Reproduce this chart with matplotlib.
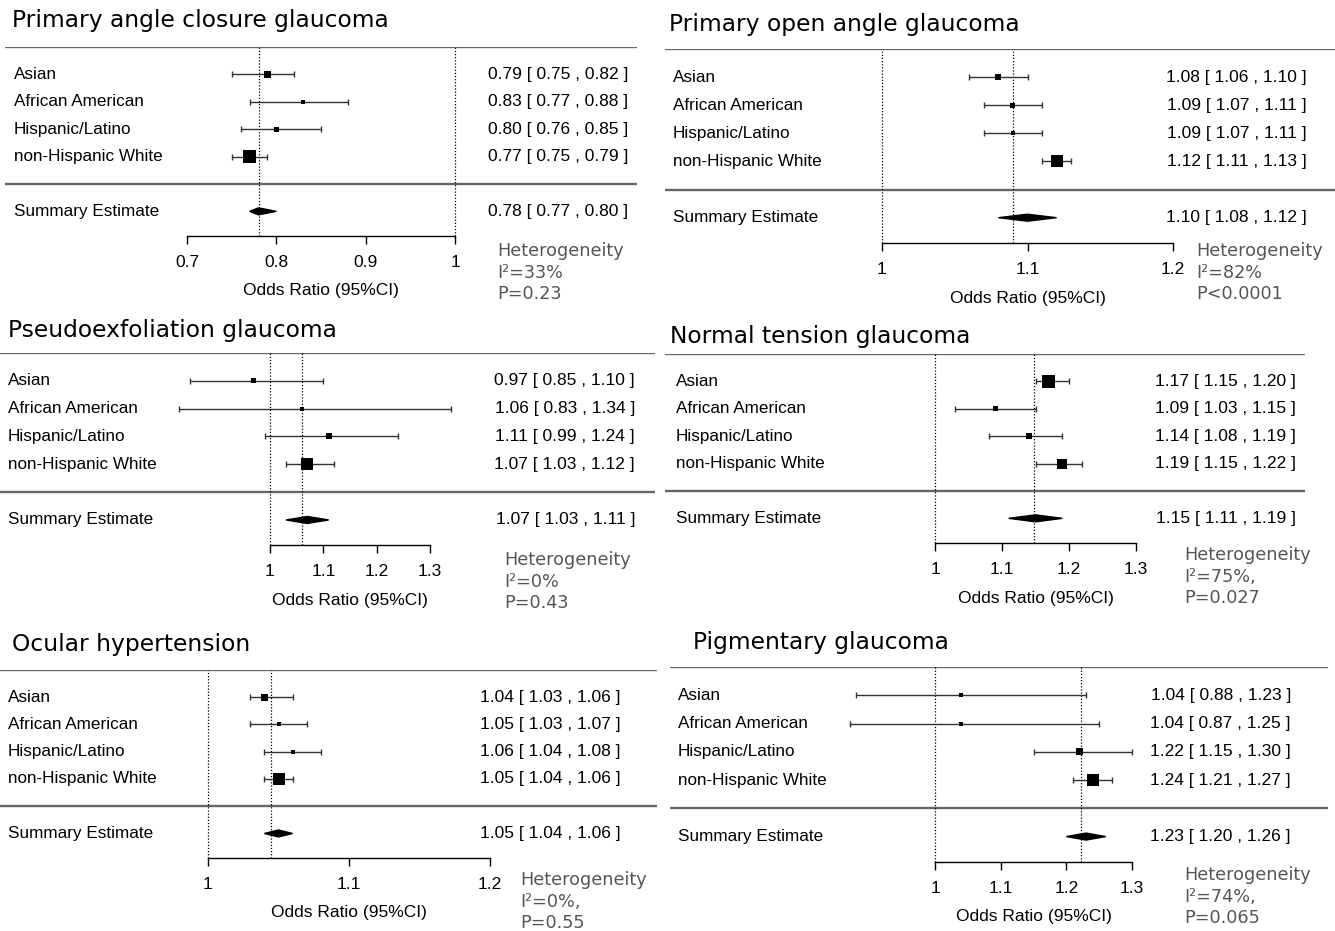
import matplotlib
matplotlib.use("Agg")
import matplotlib.pyplot as plt
import numpy as np

plt.rcParams['font.family'] = ['Liberation Sans', 'DejaVu Sans']

W, H = 1335, 931

groups = ["Asian", "African American", "Hispanic/Latino", "non-Hispanic White"]

titles = ["Primary angle closure glaucoma", "Primary open angle glaucoma",
          "Pseudoexfoliation glaucoma", "Normal tension glaucoma",
          "Ocular hypertension", "Pigmentary glaucoma"]

# odds ratios per group: estimate, lower, upper
pacg_est = [0.79, 0.83, 0.80, 0.77]
pacg_lo = [0.75, 0.77, 0.76, 0.75]
pacg_hi = [0.82, 0.88, 0.85, 0.79]
poag_est = [1.08, 1.09, 1.09, 1.12]
poag_lo = [1.06, 1.07, 1.07, 1.11]
poag_hi = [1.10, 1.11, 1.11, 1.13]
pxf_est = [0.97, 1.06, 1.11, 1.07]
pxf_lo = [0.85, 0.83, 0.99, 1.03]
pxf_hi = [1.10, 1.34, 1.24, 1.12]
ntg_est = [1.17, 1.09, 1.14, 1.19]
ntg_lo = [1.15, 1.03, 1.08, 1.15]
ntg_hi = [1.20, 1.15, 1.19, 1.22]
oht_est = [1.04, 1.05, 1.06, 1.05]
oht_lo = [1.03, 1.03, 1.04, 1.04]
oht_hi = [1.06, 1.07, 1.08, 1.06]
pg_est = [1.04, 1.04, 1.22, 1.24]
pg_lo = [0.88, 0.87, 1.15, 1.21]
pg_hi = [1.23, 1.25, 1.30, 1.27]

# summary estimate [est, lower, upper]
summaries = [[0.78, 0.77, 0.80], [1.10, 1.08, 1.12], [1.07, 1.03, 1.11],
             [1.15, 1.11, 1.19], [1.05, 1.04, 1.06], [1.23, 1.20, 1.26]]
# position of the dotted reference line (unrounded pooled estimate)
ref_line = [0.781, 1.090, 1.060, 1.148, 1.045, 1.222]

# relative study weights (square size)
weights = [[7, 4, 5, 13], [6, 5, 4, 12], [5, 4, 6, 12],
           [13, 5, 6, 10], [7, 4, 4, 12], [4, 4, 7, 12]]

ticks = [[0.7, 0.8, 0.9, 1], [1, 1.1, 1.2], [1, 1.1, 1.2, 1.3],
         [1, 1.1, 1.2, 1.3], [1, 1.1, 1.2], [1, 1.1, 1.2, 1.3]]

i2 = ["33%", "82%", "0%", "75%,", "0%,", "74%,"]
pvals = ["P=0.23", "P<0.0001", "P=0.43", "P=0.027", "P=0.55", "P=0.065"]

studies = [(pacg_est, pacg_lo, pacg_hi), (poag_est, poag_lo, poag_hi),
           (pxf_est, pxf_lo, pxf_hi), (ntg_est, ntg_lo, ntg_hi),
           (oht_est, oht_lo, oht_hi), (pg_est, pg_lo, pg_hi)]

# layout in pixels: left, right, top line, axis line, tick px (first, last),
# label x, estimate right x, heterogeneity (x, y), title (x, y)
layout = [
    dict(L=5, R=637, top=47, axis=236, tp=(187, 455), lab=14, est=628, het=(497, 251), tit=(12, 20)),
    dict(L=665, R=1335, top=49, axis=243, tp=(882, 1173), lab=673, est=1307, het=(1196, 251), tit=(669, 24)),
    dict(L=0, R=655, top=353, axis=545, tp=(270, 430), lab=8, est=635, het=(504, 560), tit=(8, 330)),
    dict(L=665, R=1305, top=354, axis=543, tp=(935, 1136), lab=676, est=1296, het=(1184, 555), tit=(670, 337)),
    dict(L=0, R=657, top=670, axis=858, tp=(208, 490), lab=8, est=621, het=(520, 880), tit=(12, 645)),
    dict(L=670, R=1328, top=667, axis=862, tp=(935, 1132), lab=678, est=1291, het=(1184, 875), tit=(693, 642)),
]

KAX = 6.9  # axis line in row units

fig = plt.figure(figsize=(W / 100, H / 100), dpi=100)

for i in range(6):
    lay = layout[i]
    est, lo, hi = [np.array(a) for a in studies[i]]
    tk = ticks[i]
    ax = fig.add_axes([lay['L'] / W, 1 - lay['axis'] / H,
                       (lay['R'] - lay['L']) / W, (lay['axis'] - lay['top']) / H])
    p0, p1 = lay['tp']
    sc = (tk[-1] - tk[0]) / (p1 - p0)
    x0 = tk[0] - (p0 - lay['L']) * sc
    x1 = tk[0] + (lay['R'] - p0) * sc
    ax.set_xlim(x0, x1)
    ax.set_ylim(KAX, 0)
    rowpx = (lay['axis'] - lay['top']) / KAX

    def px(x):
        return x0 + (x - lay['L']) * sc

    def py(y):
        return (y - lay['top']) / rowpx

    rows = np.arange(1, 5)
    ax.axhline(0, color='#666666', lw=1.7)
    ax.axhline(5, color='#666666', lw=1.7)
    ax.axvline(1, color='black', ls=(0, (1, 1.5)), lw=0.9)
    ax.axvline(ref_line[i], color='black', ls=(0, (1, 1.5)), lw=0.9)

    ax.errorbar(est, rows, xerr=[est - lo, hi - est], fmt='none', ecolor='#333333',
                elinewidth=1, capsize=2.5, capthick=1, zorder=3)
    ax.scatter(est, rows, s=(np.array(weights[i]) * 0.72) ** 2, marker='s',
               color='black', zorder=4, linewidths=0)

    s_est, s_lo, s_hi = summaries[i]
    dh = 3.5 / rowpx
    ax.fill([s_lo, s_est, s_hi, s_est], [6, 6 - dh, 6, 6 + dh], color='black', zorder=4)

    for r, g in zip(rows, groups):
        ax.text(px(lay['lab']), r, g, ha='left', va='center', fontsize=12.3)
        ax.text(px(lay['est']), r, "%.2f [ %.2f , %.2f ]" % (est[r - 1], lo[r - 1], hi[r - 1]),
                ha='right', va='center', fontsize=12.5)
    ax.text(px(lay['lab']), 6, "Summary Estimate", ha='left', va='center', fontsize=12.3)
    ax.text(px(lay['est']), 6, "%.2f [ %.2f , %.2f ]" % (s_est, s_lo, s_hi),
            ha='right', va='center', fontsize=12.5)

    ax.text(px(lay['tit'][0]), py(lay['tit'][1]), titles[i], ha='left', va='center',
            fontsize=16.8, family='DejaVu Sans')
    ax.text(px(lay['het'][0]), py(lay['het'][1] - 9), "Heterogeneity\nI\u00b2=" + i2[i] + "\n" + pvals[i],
            ha='left', va='top', fontsize=12.7, family='DejaVu Sans', color='#555555',
            linespacing=1.26)
    ax.text((tk[0] + tk[-1]) / 2, py(lay['axis'] + 55), "Odds Ratio (95%CI)",
            ha='center', va='center', fontsize=12.5)

    for s in ['top', 'left', 'right']:
        ax.spines[s].set_visible(False)
    ax.spines['bottom'].set_bounds(tk[0], tk[-1])
    ax.spines['bottom'].set_linewidth(1)
    ax.set_xticks(tk)
    ax.set_xticklabels(["%g" % t for t in tk])
    ax.tick_params(axis='x', direction='out', length=6, width=1, pad=8, labelsize=12.5)
    ax.set_yticks([])
    ax.patch.set_alpha(0)

fig.savefig("out.png", dpi=100)
